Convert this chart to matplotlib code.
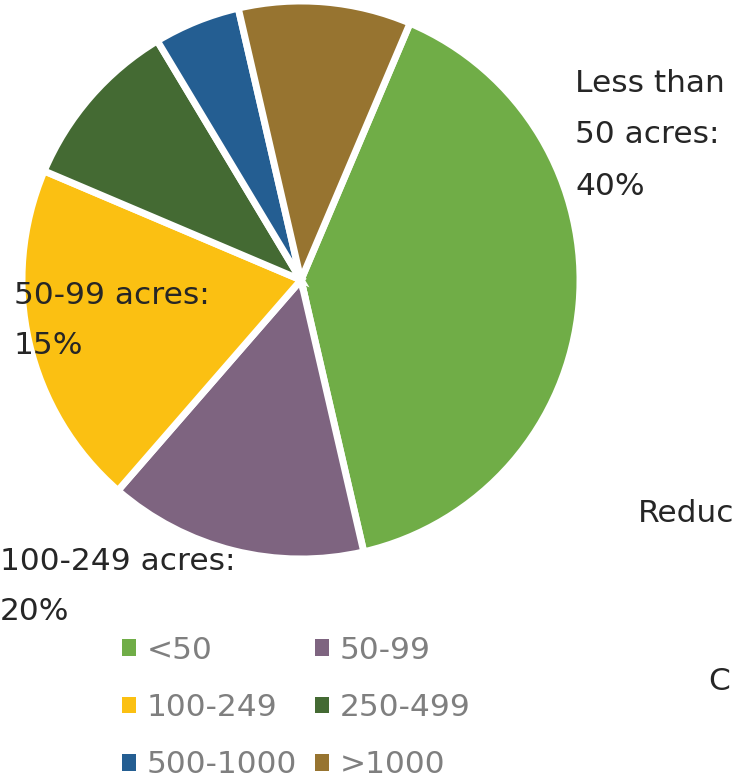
import matplotlib
matplotlib.use("Agg")
import matplotlib.pyplot as plt

categories = ["<50", "50-99", "100-249", "250-499", "500-1000", ">1000"]
shares = [40, 15, 20, 10, 5, 10]
colors = ["#70AD47", "#7E6480", "#FBC012", "#446A33", "#245E92", "#977430"]

label_texts = ["Less than\n50 acres:\n40%", "50-99 acres:\n15%", "100-249 acres:\n20%"]
side_texts = ["Reduc", "C"]

W, H = 736, 779
fig = plt.figure(figsize=(W / 100, H / 100), dpi=100)
plt.rcParams['font.family'] = ['DejaVu Sans']

cx, cy, r = 301, 280, 279
ax = fig.add_axes([(cx - r) / W, (H - cy - r) / H, 2 * r / W, 2 * r / H])
wedges, _ = ax.pie(shares, colors=colors, startangle=67, counterclock=False,
                   radius=1, wedgeprops=dict(edgecolor="white", linewidth=5))
ax.set_xlim(-1, 1)
ax.set_ylim(-1, 1)
ax.set_aspect("equal")
ax.axis("off")

def ftext(x, y, s, **kw):
    fig.text(x / W, 1 - y / H, s, **kw)

dark = "#262626"
fs = 22.5
ftext(575, 69, label_texts[0], fontsize=fs, color=dark, va="top", ha="left", linespacing=1.97)
ftext(14, 281, label_texts[1], fontsize=fs, color=dark, va="top", ha="left", linespacing=1.93)
ftext(0, 547, label_texts[2], fontsize=fs, color=dark, va="top", ha="left", linespacing=1.93)
ftext(638, 513, side_texts[0], fontsize=fs, color=dark, va="center", ha="left")
ftext(708, 682, side_texts[1], fontsize=fs, color=dark, va="center", ha="left")

order = [0, 2, 4, 1, 3, 5]
leg = fig.legend([wedges[i] for i in order], [categories[i] for i in order],
                 ncol=2, loc="upper left", bbox_to_anchor=(122 / W, 1 - 636 / H),
                 frameon=False, fontsize=22.5, handlelength=0.45, handleheight=0.45,
                 handletextpad=0.35, columnspacing=0.55, labelspacing=0.9,
                 borderaxespad=0, borderpad=0)
for t in leg.get_texts():
    t.set_color("#7F7F7F")
for h in leg.legend_handles:
    h.set_linewidth(0)

fig.savefig("out.png", dpi=100)
